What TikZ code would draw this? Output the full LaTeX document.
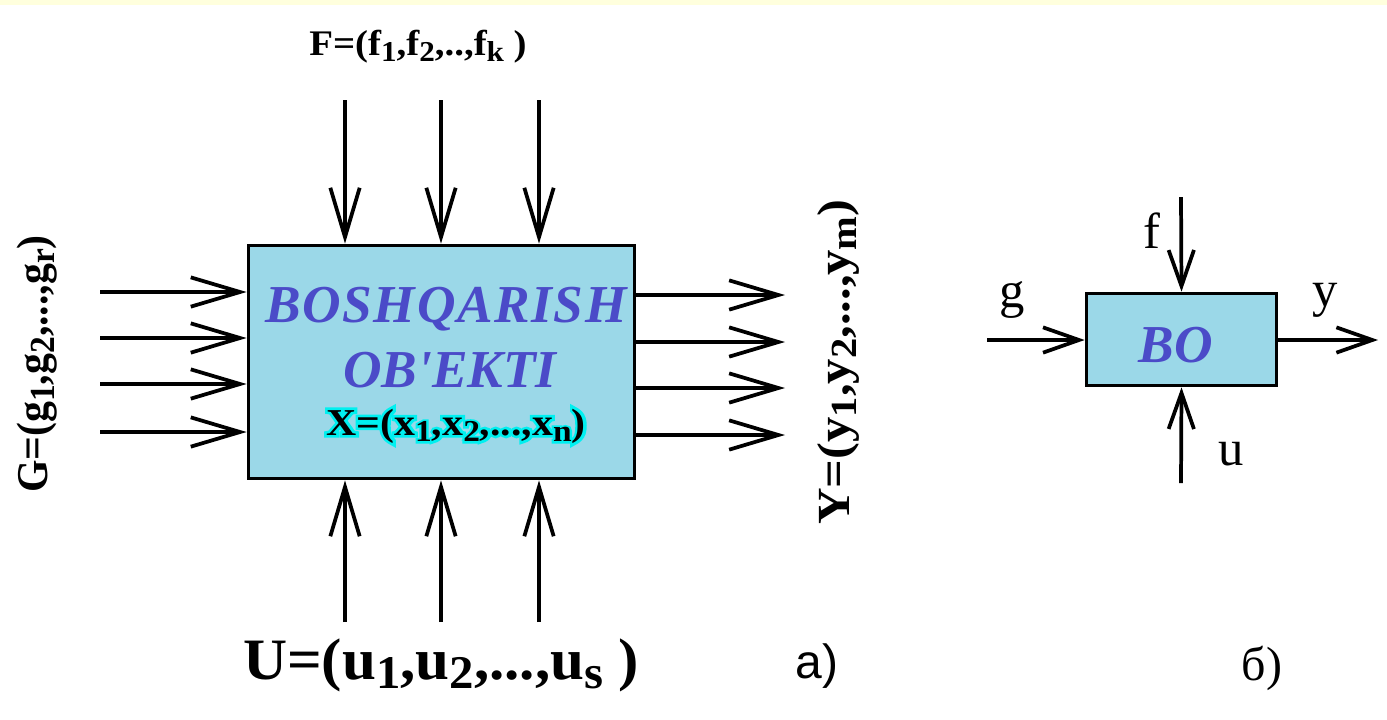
\documentclass[tikz,border=0pt]{standalone}
\usepackage{fontspec}
\setmainfont{Liberation Serif}
\newfontfamily\asans{Liberation Sans}
\newfontfamily\glowfont[FakeBold=14]{Liberation Serif Bold}
\usetikzlibrary{arrows.meta}
\definecolor{boxfill}{RGB}{155,216,232}
\definecolor{txtblue}{RGB}{75,75,200}
\definecolor{band}{RGB}{255,255,221}
\definecolor{glow}{RGB}{0,240,240}
\newcommand\lsb[1]{\raisebox{-0.17em}{\scalebox{0.8}{#1}}}
\begin{document}
\begin{tikzpicture}[x=0.75pt,y=-0.75pt,
  blk/.style={draw=black, line width=2.8pt, fill=boxfill, inner sep=0pt},
  sig/.style={line width=2.8pt, -{Straight Barb[length=37pt,width=22pt]}},
  ssig/.style={line width=2.8pt, -{Straight Barb[length=27pt,width=19pt]}},
  lbl/.style={inner sep=0pt, anchor=base},
  ttl/.style={lbl, text=txtblue, font=\bfseries\itshape\fontsize{40pt}{48pt}\selectfont},
  xlbl/.style={lbl, font=\bfseries\fontsize{28.5pt}{34pt}\selectfont},
  biglbl/.style={lbl, font=\bfseries\fontsize{33pt}{40pt}\selectfont},
  small/.style={lbl, font=\fontsize{38pt}{44pt}\selectfont}
]
\fill[white] (0,0) rectangle (1387,719);
\fill[band] (0,0) rectangle (1387,5);
\useasboundingbox (0,0) rectangle (1387,719);

% main block
\node[blk, minimum width=289.5pt, minimum height=174.75pt] (obj) at (441.5,362) {};
\node[ttl] (t1) at (446,322) {\addfontfeatures{LetterSpace=3}BOSHQARISH};
\node[ttl] (t2) at (450,387) {OB\textquotesingle EKTI};
\node[lbl, text=glow, font=\glowfont\fontsize{28.5pt}{34pt}\selectfont] (xg) at (456,435) {\scalebox{1.1}[1]{X=(x\lsb{1},x\lsb{2},...,x\lsb{n})}};
\node[xlbl] (xl) at (456,435) {\scalebox{1.1}[1]{X=(x\lsb{1},x\lsb{2},...,x\lsb{n})}};

% inputs F and U
\foreach \x [count=\i] in {345,441,539} {
  \coordinate (fs\i) at (\x,100);
  \draw[sig] (fs\i) -- (fs\i |- obj.north);
  \coordinate (us\i) at (\x,622);
  \draw[sig] (us\i) -- (us\i |- obj.south);
}
% inputs G
\foreach \y [count=\i] in {292,338,384,432} {
  \coordinate (gs\i) at (100,\y);
  \draw[sig] (gs\i) -- (gs\i -| obj.west);
}
% outputs Y
\foreach \y [count=\i] in {295,342,388,435} {
  \coordinate (ys\i) at (785,\y);
  \draw[sig] (ys\i -| obj.east) -- (ys\i);
}

\node[lbl, font=\bfseries\fontsize{27pt}{32pt}\selectfont] (Fl) at (418,55) {\scalebox{1.08}[1]{F=(f\lsb{1},f\lsb{2},..,f\lsb{k} )}};
\node[lbl, font=\bfseries\fontsize{44pt}{52pt}\selectfont] (Ul) at (441,679) {\scalebox{1.04}[1]{U=(u\lsb{1},u\lsb{2},...,u\lsb{s} )}};
\node[biglbl, rotate=90] (Gl) at (47,364) {\scalebox{0.95}[1]{G=(g\lsb{1},g\lsb{2},...,g\lsb{r})}};
\node[biglbl, font=\bfseries\fontsize{34.5pt}{40pt}\selectfont, rotate=90] (Yl) at (849,362) {\scalebox{1.1}[1]{Y=(y\lsb{1},y\lsb{2},...,y\lsb{m})}};
\node[lbl, font=\asans\fontsize{36pt}{42pt}\selectfont] (la) at (817,678) {a)};
\node[lbl, font=\fontsize{36pt}{42pt}\selectfont] (lb) at (1262,680) {б)};

% small block
\node[blk, minimum width=142.5pt, minimum height=69pt] (bo) at (1181.5,339.5) {};
\node[ttl] (bot) at (1176,362) {BO};
\coordinate (sf) at (1181,197);
\coordinate (su) at (1181,483);
\coordinate (sg) at (987,340);
\coordinate (sy) at (1378,340);
\draw[ssig] (sf) -- (bo.north);
\draw[ssig] (su) -- (bo.south);
\draw[ssig] (sg) -- (sg -| bo.west);
\draw[ssig] (sy -| bo.east) -- (sy);
\node[small] (lf) at (1152,248) {f};
\node[small] (lg) at (1012,307) {g};
\node[small] (ly) at (1325,306) {y};
\node[small] (lu) at (1231,465) {u};
\end{tikzpicture}
\end{document}
